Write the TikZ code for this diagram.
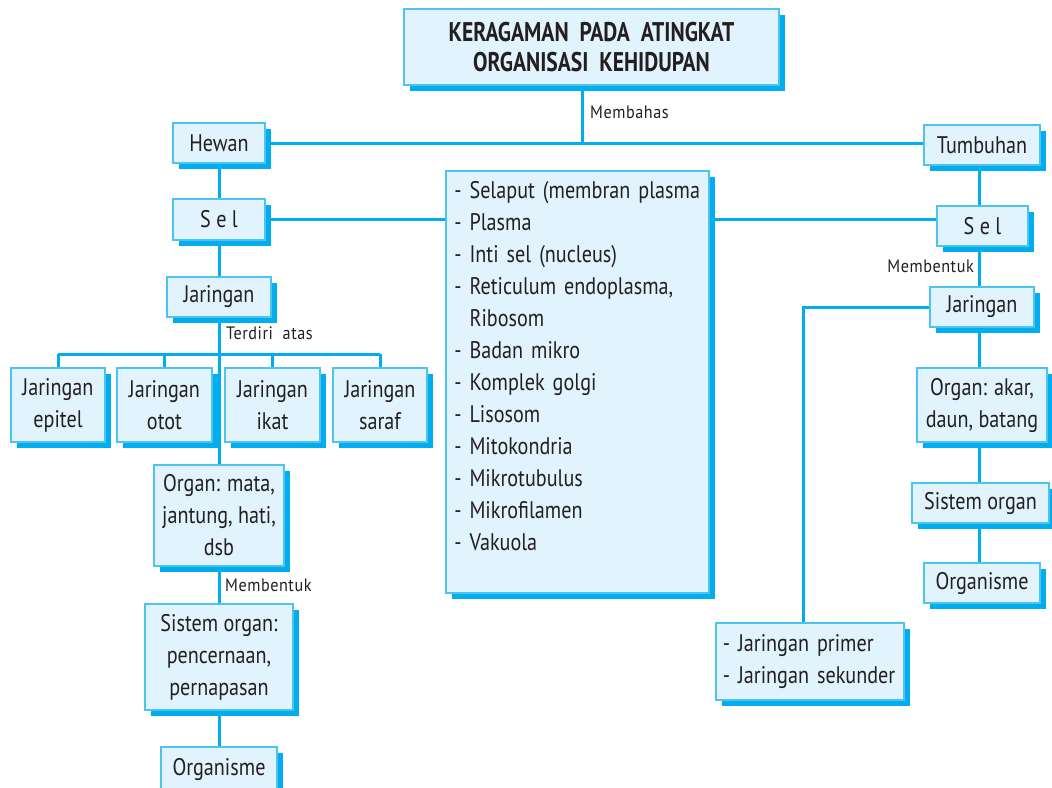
\documentclass[tikz,border=0pt]{standalone}
\usepackage{fontspec}
\setmainfont[FakeStretch=0.84]{PT Sans}
\newfontfamily\headfont[FakeStretch=0.8]{PT Sans}
\newfontfamily\tagfont[FakeStretch=0.9,LetterSpace=3]{PT Sans}
\usetikzlibrary{shadows,backgrounds}
\definecolor{boxfill}{HTML}{E1F3FC}
\definecolor{boxrim}{HTML}{4DC3F0}
\definecolor{shade}{HTML}{00AEEF}
\definecolor{wire}{HTML}{00AEEF}
\definecolor{ink}{HTML}{231F20}

\begin{document}
\begin{tikzpicture}[x=1pt, y=-1pt,
    box/.style={draw=boxrim, line width=1.6pt, fill=boxfill, inner sep=0pt, align=center,
      text=ink, font=\fontsize{24}{32}\selectfont,
      drop shadow={shadow xshift=6pt, shadow yshift=-6pt, fill=shade, opacity=1}},
    listbox/.style={box, align=left, anchor=north west},
    tag/.style={inner sep=0pt, text=ink, font=\tagfont\fontsize{18}{20}\selectfont},
    link/.style={draw=wire, line width=3pt}]
  \useasboundingbox (0,0) rectangle (1052,787);

  % title
  \node[box, font=\headfont\bfseries\fontsize{27}{30}\selectfont, minimum width=375pt, minimum height=76pt]
    (title) at (591.5,47) {KERAGAMAN\ \ PADA\ \ ATINGKAT\\ORGANISASI\ \ KEHIDUPAN};

  % hewan branch
  \node[box, minimum width=92pt, minimum height=40pt]  (hewan)  at (219,143)   {Hewan};
  \node[box, minimum width=92pt, minimum height=41pt]  (selL)   at (219,219.5) {S e l};
  \node[box, minimum width=104pt, minimum height=40pt] (jarL)   at (219,297)   {Jaringan};
  \node[box, minimum width=94pt, minimum height=74pt]  (epitel) at (58,405)    {Jaringan\\epitel};
  \node[box, minimum width=95pt, minimum height=74pt]  (otot)   at (164.5,405) {Jaringan\\otot};
  \node[box, minimum width=95pt, minimum height=74pt]  (ikat)   at (272.5,405) {Jaringan\\ikat};
  \node[box, minimum width=94pt, minimum height=74pt]  (saraf)  at (380,405)   {Jaringan\\saraf};
  \node[box, minimum width=130pt, minimum height=101pt] (organL) at (219,515.5) {Organ: mata,\\jantung, hati,\\dsb};
  \node[box, minimum width=148pt, minimum height=106pt] (sistemL) at (219,657) {Sistem organ:\\pencernaan,\\pernapasan};
  \node[box, minimum width=116pt, minimum height=44pt] (orgsL)  at (219,769)   {Organisme};

  % cell parts
  \node[listbox, text width=252pt, inner xsep=5.5pt, minimum height=422pt] (parts) at (445,170)
    {\hspace*{3pt}- Selaput (membran plasma\\\hspace*{3pt}- Plasma\\\hspace*{3pt}- Inti sel (nucleus)\\
     \hspace*{3pt}- Reticulum endoplasma,\\\hspace*{3pt}\phantom{- }Ribosom\\\hspace*{3pt}- Badan mikro\\
     \hspace*{3pt}- Komplek golgi\\\hspace*{3pt}- Lisosom\\\hspace*{3pt}- Mitokondria\\
     \hspace*{3pt}- Mikrotubulus\\\hspace*{3pt}- Mikrofilamen\\\hspace*{3pt}- Vakuola\\[-10pt]\strut};

  % tumbuhan branch
  \node[box, minimum width=116pt, minimum height=40pt] (tumbuhan) at (982,145)   {Tumbuhan};
  \node[box, minimum width=91pt, minimum height=40pt]  (selR)     at (982.5,226) {S e l};
  \node[box, minimum width=104pt, minimum height=40pt] (jarR)     at (982,307)   {Jaringan};
  \node[box, minimum width=130pt, minimum height=74pt] (organR)   at (982,405)   {Organ: akar,\\daun, batang};
  \node[box, minimum width=137pt, minimum height=40pt] (sistemR)  at (980.5,503) {Sistem organ};
  \node[box, minimum width=116pt, minimum height=40pt] (orgsR)    at (982,583)   {Organisme};
  \node[listbox, text width=174pt, inner xsep=7pt, minimum height=77pt] (primer) at (715,622)
    {- Jaringan primer\\- Jaringan sekunder};

  % labels
  \node[tag, anchor=west] (lblA) at (590,112) {Membahas};
  \node[tag, anchor=west] (lblB) at (226,333) {Terdiri\ \ atas};
  \node[tag, anchor=west] (lblC) at (225,585) {Membentuk};
  \node[tag, anchor=east] (lblD) at (974,266) {Membentuk};

  \coordinate (bus) at (219,354);
  \coordinate (rline) at (979,0);
  \coordinate (pline) at (803,0);
  \coordinate (tline) at (582,0);

  \begin{scope}[on background layer]
    \draw[link] (title.south -| tline) -- (hewan.east -| tline);
    \draw[link] (hewan.east) -- (hewan.east -| tumbuhan.west);
    \draw[link] (hewan.south) -- (orgsL.north);
    \draw[link] (selL.east) -- (selL.east -| parts.west);
    \draw[link] (selL.east -| parts.east) -- (selL.east -| selR.west);
    \draw[link] (epitel.north |- bus) -- (saraf.north |- bus);
    \foreach \n in {epitel,otot,ikat,saraf}
      \draw[link] (\n.north) -- (\n.north |- bus);
    \draw[link] (tumbuhan.south -| rline) -- (orgsR.north -| rline);
    \draw[link] (jarR.west) -- (jarR.west -| pline) -- (primer.north -| pline);
  \end{scope}
\end{tikzpicture}
\end{document}
